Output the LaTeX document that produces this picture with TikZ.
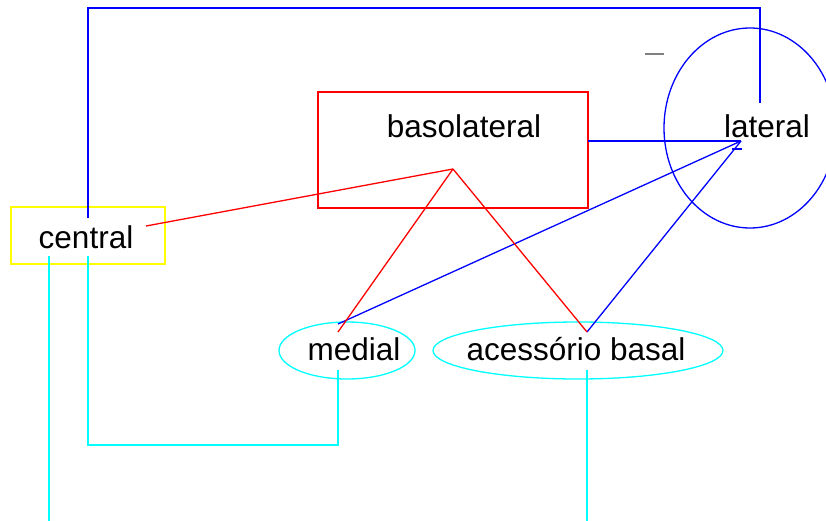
\documentclass[tikz,border=0pt]{standalone}
\usepackage{fontspec}
\setmainfont{Liberation Sans}
\usetikzlibrary{shapes.geometric}
\definecolor{cRed}{RGB}{255,0,0}
\definecolor{cBlue}{RGB}{0,0,255}
\definecolor{cYellow}{RGB}{255,255,0}
\definecolor{cCyan}{RGB}{0,255,255}
\definecolor{cGrey}{RGB}{128,128,128}
\begin{document}
\begin{tikzpicture}[x=1pt,y=-1pt,line width=1.3pt,
  lbl/.style={font=\fontsize{31.5}{36}\selectfont,inner sep=0pt,anchor=base},
  redbox/.style={draw=cRed,minimum width=270pt,minimum height=116pt,inner sep=0pt},
  yellowbox/.style={draw=cYellow,minimum width=154pt,minimum height=57pt,inner sep=0pt},
  blueell/.style={draw=cBlue,ellipse,minimum width=172pt,minimum height=200pt,inner sep=0pt},
  cyanell/.style={draw=cCyan,ellipse,minimum height=57pt,inner sep=0pt},
  bline/.style={draw=cBlue},
  rline/.style={draw=cRed},
  cline/.style={draw=cCyan}]
\useasboundingbox (0,0) rectangle (826,521);
% shapes
\node[redbox] (baso) at (453,150) {};
\node[blueell] (lat) at (750,128) {};
\node[yellowbox] (cen) at (88,235.5) {};
\node[cyanell,minimum width=136pt] (med) at (347,350.5) {};
\node[cyanell,minimum width=290pt] (acc) at (578,350.5) {};
% labels
\node[lbl] (basot) at (464,138) {basolateral};
\node[lbl] (latt) at (767,138) {lateral};
\node[lbl] (cent) at (86,248) {central};
\node[lbl] (medt) at (354,360) {medial};
\node[lbl] (acct) at (576,360) {acessório basal};
% connection points
\coordinate (cenTop) at (88,218);
\coordinate (topY) at (0,8);
\coordinate (latIn) at (760,103);
\coordinate (basoR) at (588,141);
\coordinate (latTip) at (741,141);
\coordinate (cenR) at (146,226);
\coordinate (apex) at (453,169);
\coordinate (medTop) at (338,332);
\coordinate (medTopB) at (338,324);
\coordinate (accTop) at (587,332);
\coordinate (cenBL) at (49,256);
\coordinate (cenBR) at (88,256);
\coordinate (medBot) at (338,370);
\coordinate (accBot) at (587,370);
\coordinate (botY) at (0,521);
\coordinate (lowY) at (0,445);
\coordinate (barbA) at (732,149);
\coordinate (barbB) at (742,149);
\coordinate (dashA) at (645,54);
\coordinate (dashB) at (664,54);
% blue connectors
\draw[bline] (cenTop) -- (cenTop |- topY) -| (latIn);
\draw[bline] (basoR) -- (latTip);
\draw[bline] (medTopB) -- (latTip);
\draw[bline] (accTop) -- (latTip);
\draw[bline] (barbA) -- (barbB);
% red connectors
\draw[rline] (cenR) -- (apex);
\draw[rline] (apex) -- (medTop);
\draw[rline] (apex) -- (accTop);
% cyan connectors
\draw[cline] (cenBL) -- (cenBL |- botY);
\draw[cline] (cenBR) -- (cenBR |- lowY) -| (medBot);
\draw[cline] (accBot) -- (accBot |- botY);
% grey dash
\draw[cGrey,line width=1.5pt] (dashA) -- (dashB);
\end{tikzpicture}
\end{document}
